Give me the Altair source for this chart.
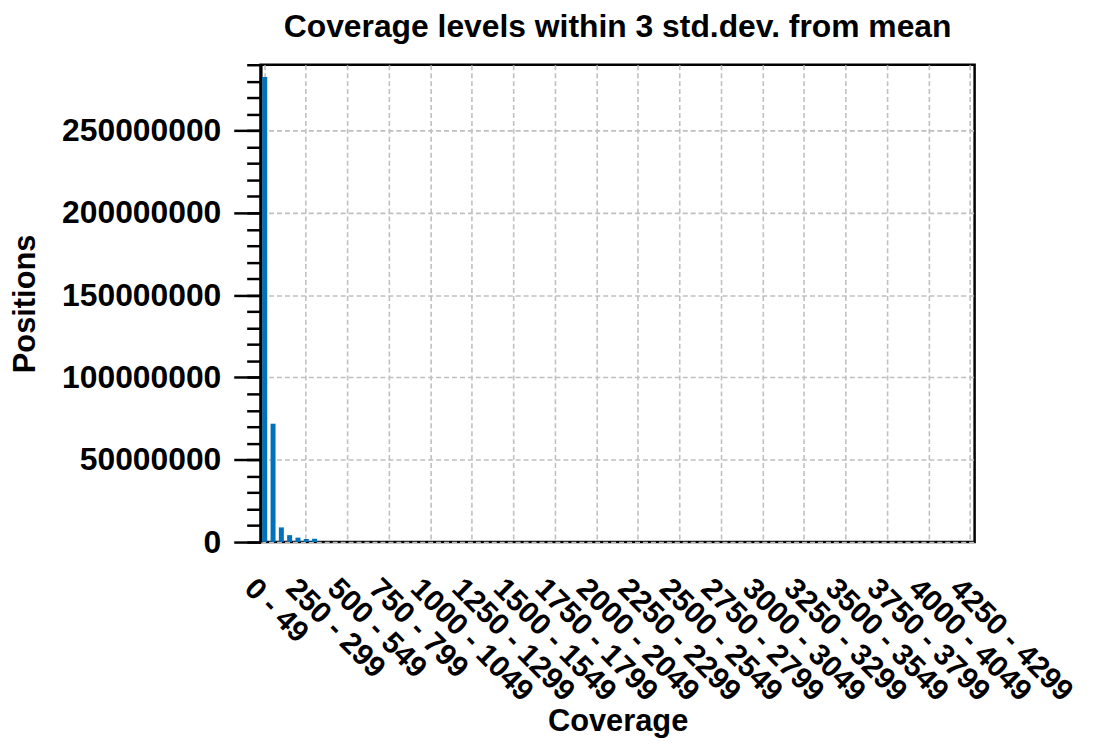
import altair as alt
import pandas as pd

bin_starts = list(range(0, 4300, 50))
bin_labels = [f"{s} - {s + 49}" for s in bin_starts]
positions = [282600000, 71900000, 8900000, 4200000, 2700000, 1800000, 2000000] + [0] * (len(bin_starts) - 7)

df = pd.DataFrame({"bin": bin_labels, "positions": positions})

label_values = bin_labels[::5]
major_ticks = [0, 50000000, 100000000, 150000000, 200000000, 250000000]
minor_ticks = list(range(0, 290000001, 10000000))

FONT = "Liberation Sans"

x_enc = alt.X(
    "bin:N",
    sort=bin_labels,
    scale=alt.Scale(paddingInner=0.4, paddingOuter=0.2),
    axis=alt.Axis(
        values=label_values,
        title="Coverage",
        labelAngle=45,
        labelAlign="left",
        labelBaseline="top",
        labelPadding=31,
        labelOffset=-5,
        labelFont=FONT,
        labelFontSize=30,
        labelFontWeight="bold",
        labelColor="black",
        ticks=False,
        domain=False,
        grid=True,
        tickBand="center",
        bandPosition=0.5,
        gridColor="#c0c0c0",
        gridDash=[5, 3],
        gridWidth=1.6,
        titleFont=FONT,
        titleFontSize=31,
        titleFontWeight="bold",
        titleColor="black",
        titlePadding=0,
    ),
)

y_scale = alt.Scale(domain=[0, 290000000], nice=False, zero=True)

bars = alt.Chart(df).mark_bar(color="#0072BD").encode(
    x=x_enc,
    y=alt.Y(
        "positions:Q",
        scale=y_scale,
        axis=alt.Axis(
            values=major_ticks,
            format="d",
            title="Positions",
            orient="left",
            tickSize=27,
            tickWidth=2.5,
            tickColor="black",
            labelPadding=13,
            labelFont=FONT,
            labelFontSize=32,
            labelFontWeight="bold",
            labelColor="black",
            domain=True,
            domainColor="black",
            domainWidth=3,
            grid=True,
            gridColor="#c0c0c0",
            gridDash=[5, 3],
            gridWidth=1.6,
            titleFont=FONT,
            titleFontSize=31,
            titleFontWeight="bold",
            titleColor="black",
            titlePadding=20,
        ),
    ),
)

minor = alt.Chart(df).mark_point(opacity=0).encode(
    x=alt.X("bin:N", sort=bin_labels),
    y=alt.Y(
        "positions:Q",
        scale=y_scale,
        axis=alt.Axis(
            values=minor_ticks,
            orient="left",
            labels=False,
            title=None,
            tickSize=14,
            tickWidth=2.5,
            tickColor="black",
            domain=False,
            grid=False,
        ),
    ),
)

chart = (
    alt.layer(bars, minor)
    .resolve_axis(y="independent")
    .properties(
        width=718,
        height=480,
        background="white",
        title=alt.TitleParams(
            "Coverage levels within 3 std.dev. from mean",
            font=FONT,
            fontSize=32,
            fontWeight="bold",
            color="black",
            anchor="middle",
            offset=20,
        ),
        autosize=alt.AutoSizeParams(type="none"),
        padding={"left": 254, "top": 55, "right": 111, "bottom": 196},
    )
    .configure_view(stroke="black", strokeWidth=2.5)
)

chart.save("out.html", embed_options={"renderer": "svg", "actions": False})
